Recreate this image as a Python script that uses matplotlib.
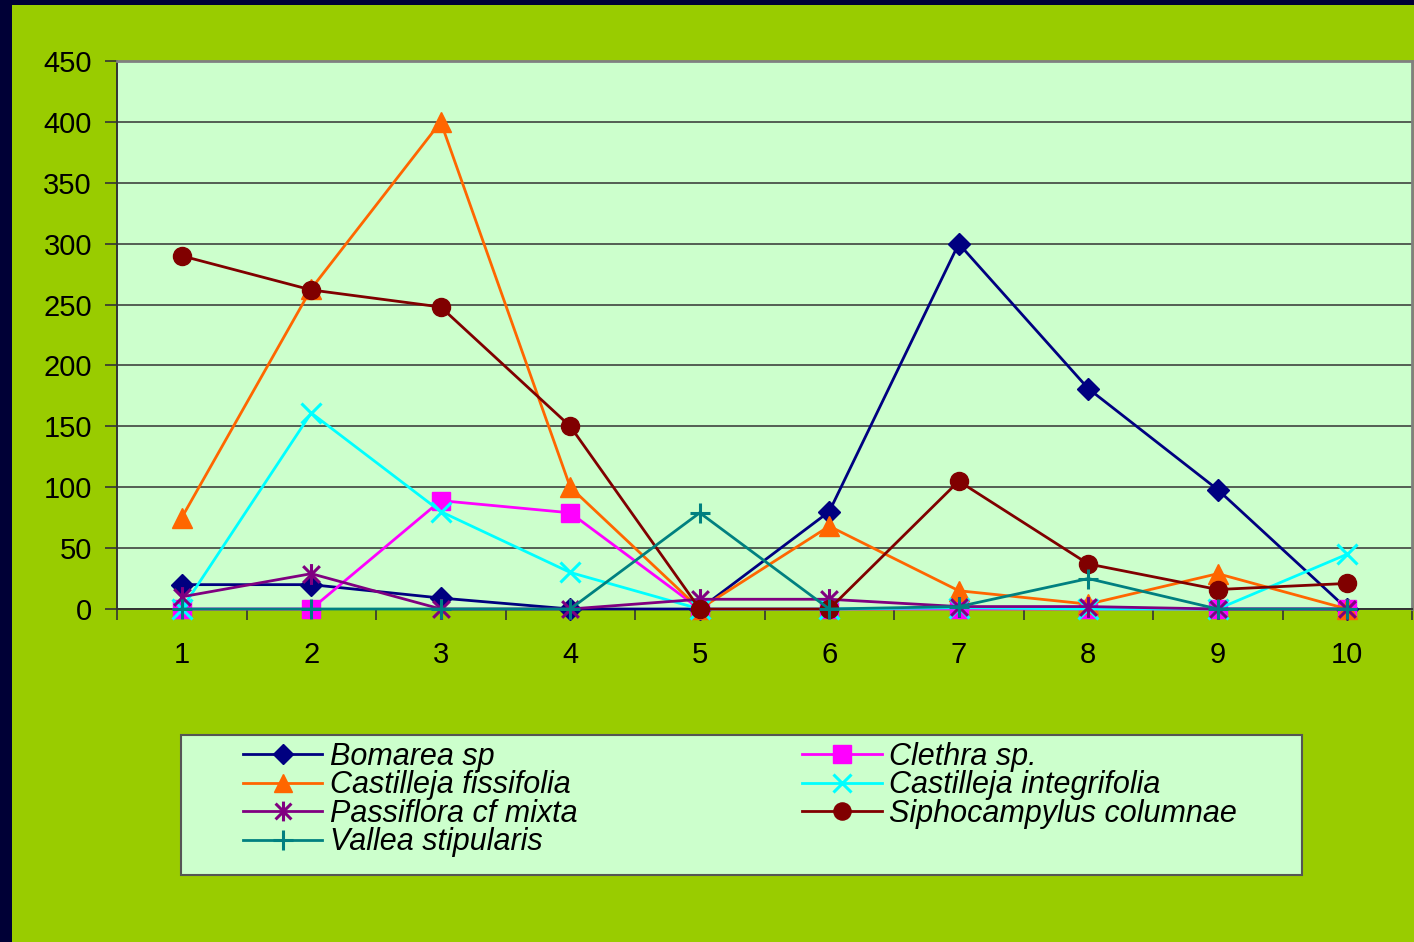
import matplotlib
matplotlib.use("Agg")
import matplotlib.pyplot as plt
from matplotlib.path import Path
from matplotlib.patches import Rectangle
import numpy as np

plt.rcParams['font.family'] = ['Liberation Sans', 'DejaVu Sans']

categories = [1, 2, 3, 4, 5, 6, 7, 8, 9, 10]
bomarea = [20, 20, 9, 0, 0, 80, 300, 181, 98, 0]
clethra = [0, 0, 89, 79, 0, 0, 0, 0, 0, 0]
cast_fiss = [75, 263, 400, 100, 0, 68, 15, 4, 29, 0]
cast_integ = [0, 161, 80, 30, 0, 0, 1, 0, 0, 45]
passiflora = [10, 29, 0, 0, 8, 8, 2, 2, 0, 0]
sipho = [290, 262, 248, 150, 0, 0, 105, 37, 16, 21]
vallea = [0, 0, 0, 0, 79, 0, 2, 25, 0, 0]
yticks = [0, 50, 100, 150, 200, 250, 300, 350, 400, 450]

W, H = 1414, 942
fig = plt.figure(figsize=(W / 100, H / 100), dpi=100)
fig.patch.set_facecolor('#000036')
fig.patches.append(Rectangle((12 / W, 0), 1 - 12 / W, 1 - 5 / H, transform=fig.transFigure,
                             facecolor='#99CC00', edgecolor='none', zorder=-10))

ax = fig.add_axes([117 / W, 1 - 609 / H, (1412 - 117) / W, (609 - 61) / H])
ax.set_zorder(1)
ax.set_facecolor('#CCFFCC')

# asterisk marker: vertical line + X
star = Path([(0, -1), (0, 1), (-0.8, -0.8), (0.8, 0.8), (-0.8, 0.8), (0.8, -0.8)],
            [Path.MOVETO, Path.LINETO, Path.MOVETO, Path.LINETO, Path.MOVETO, Path.LINETO])

x = np.array(categories)
lw = 2.0
kw = dict(lw=lw, zorder=3, clip_on=False)
h_bom, = ax.plot(x, bomarea, color='#000080', marker='D', ms=11, label='Bomarea sp', **kw)
h_cle, = ax.plot(x, clethra, color='#FF00FF', marker='s', ms=13, label='Clethra sp.', **kw)
h_cf, = ax.plot(x, cast_fiss, color='#FF6600', marker='^', ms=14, label='Castilleja fissifolia', **kw)
h_ci, = ax.plot(x, cast_integ, color='#00FFFF', marker='x', ms=14, mew=2.2, label='Castilleja integrifolia', **kw)
h_pas, = ax.plot(x, passiflora, color='#800080', marker=star, ms=15, mew=2.2, label='Passiflora cf mixta', **kw)
h_sip, = ax.plot(x, sipho, color='#800000', marker='o', ms=13, label='Siphocampylus columnae', **kw)
h_val, = ax.plot(x, vallea, color='#008080', marker='+', ms=15, mew=2.2, label='Vallea stipularis', **kw)

ax.set_xlim(0.5, 10.5)
ax.set_ylim(0, 450)
ax.set_yticks(yticks)
ax.set_yticklabels([str(v) for v in yticks])
ax.set_xticks(x)
ax.set_xticklabels([str(c) for c in categories])
ax.set_xticks(np.arange(0.5, 11, 1), minor=True)
ax.tick_params(axis='x', which='major', length=0, pad=23, labelsize=21)
ax.tick_params(axis='x', which='minor', length=8, width=1.2, direction='out', color='#333333')
ax.tick_params(axis='y', which='major', length=9, width=1.2, direction='out', pad=9, labelsize=21, color='#333333')
ax.yaxis.grid(True, color='#333333', lw=1.1)
ax.set_axisbelow(True)
for s in ['top', 'right']:
    ax.spines[s].set_color('#808080')
    ax.spines[s].set_linewidth(2)
ax.spines['left'].set_color('#333333')
ax.spines['left'].set_linewidth(1.4)
ax.spines['bottom'].set_color('#333333')
ax.spines['bottom'].set_linewidth(1.4)

# legend box
fig.patches.append(Rectangle((181 / W, 1 - 875 / H), (1302 - 181) / W, (875 - 735) / H,
                             transform=fig.transFigure, facecolor='#CCFFCC',
                             edgecolor='#555555', lw=1.5, zorder=1))
handles = [h_bom, h_cf, h_pas, h_val, h_cle, h_ci, h_sip]
leg = fig.legend(handles=handles, labels=[h.get_label() for h in handles], ncol=2,
                 loc='upper left', bbox_to_anchor=(243 / W, 1 - 742 / H), frameon=False,
                 prop={'style': 'italic', 'size': 22}, handlelength=2.6, handletextpad=0.25,
                 columnspacing=7.35, labelspacing=-0.05, borderaxespad=0, borderpad=0,
                 markerscale=0.95)
leg.set_zorder(2)

fig.savefig('out.png', dpi=100, facecolor=fig.get_facecolor())
